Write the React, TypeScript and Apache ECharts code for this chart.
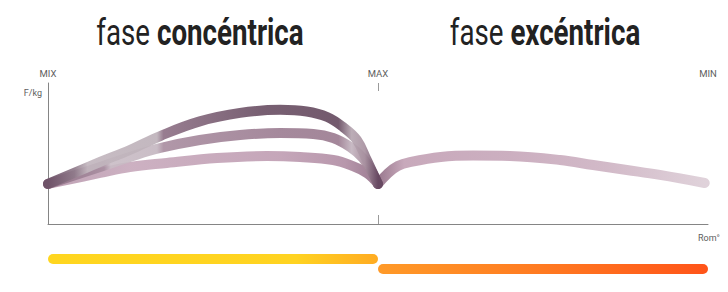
import React, { useEffect, useRef } from 'react';
import * as echarts from 'echarts';

// ---- data ----
const titleLight = 'fase ';
const titleConc = 'concéntrica';
const titleExc = 'excéntrica';
const topLabels = ['MIX', 'MAX', 'MIN'];
const topLabelPos = [0, 50, 100];
const yAxisName = 'F/kg';
const xAxisName = 'Rom°';

// concentric curves (x: 0..50 = MIX..MAX, y: F/kg, arbitrary 0..100)
const curveHigh: [number, number][] = [
  [0, 28.4], [7.9, 44.0], [12.4, 52.5], [17.0, 62.4], [23.0, 72.8], [29.1, 78.8],
  [35.2, 81.0], [39.2, 79.8], [42.3, 75.9], [44.7, 68.8], [46.8, 59.6], [48.3, 45.4],
  [49.5, 33.3], [50, 28.4],
];
const curveMid: [number, number][] = [
  [0, 28.4], [7.9, 40.4], [12.4, 47.5], [17.0, 53.9], [23.0, 59.6], [29.1, 63.1],
  [35.2, 64.5], [40.2, 63.8], [43.2, 61.0], [45.8, 54.6], [47.7, 46.8], [49.2, 36.2],
  [50, 28.4],
];
const curveLow: [number, number][] = [
  [0, 28.4], [7.9, 36.2], [12.4, 40.4], [18.0, 43.3], [25.6, 46.8], [33.2, 48.2],
  [38.2, 47.5], [43.2, 45.4], [46.2, 41.1], [48.3, 36.2], [49.5, 31.2], [50, 28.4],
];
// eccentric curve (x: 50..100 = MAX..MIN)
const curveEcc: [number, number][] = [
  [50, 28.4], [51.4, 35.5], [53.0, 41.1], [55.0, 44.0], [59.5, 47.5], [64.4, 48.5],
  [70.0, 48.2], [77.6, 45.4], [82.6, 41.8], [87.7, 38.3], [92.7, 34.8], [99.5, 29.1],
];

const phases = ['concéntrica', 'excéntrica'];
const phaseStart = [0, 50];
const phaseEnd = [50, 100];

const FONT = 'Roboto, "Noto Sans", sans-serif';

function measure(text: string, weight: number, size: number): number {
  const ctx = document.createElement('canvas').getContext('2d');
  if (!ctx) return text.length * size * 0.5;
  ctx.font = `${weight} ${size}px Roboto`;
  return ctx.measureText(text).width;
}

const hGrad = (stops: [number, string][]) =>
  new echarts.graphic.LinearGradient(0, 0, 1, 0, stops.map(([offset, color]) => ({ offset, color })));

export default function App() {
  const ref = useRef<HTMLDivElement>(null);
  useEffect(() => {
    if (!ref.current) return;
    const chart = echarts.init(ref.current, undefined, { renderer: 'svg' });

    const TS = 36;
    const w1 = measure(titleLight, 400, TS) + measure(titleConc, 700, TS);
    const w2 = measure(titleLight, 400, TS) + measure(titleExc, 700, TS);
    const scale = (206 + 192) / (w1 + w2);

    const rich = {
      a: { fontFamily: FONT, fontSize: TS, fontWeight: 400, fill: '#222', color: '#222' },
      b: { fontFamily: FONT, fontSize: TS, fontWeight: 700, fill: '#222', color: '#222' },
    };

    const labelStyle = { color: '#5e5e5e', fontSize: 9.5, fontFamily: FONT };

    const option: any = {
      animation: false,
      backgroundColor: '#ffffff',
      graphic: [
        {
          type: 'text', x: 200, y: 32, scaleX: scale, scaleY: 1.05,
          style: { text: `{a|${titleLight}}{b|${titleConc}}`, rich, align: 'center', verticalAlign: 'middle' },
        },
        {
          type: 'text', x: 545, y: 32, scaleX: scale, scaleY: 1.05,
          style: { text: `{a|${titleLight}}{b|${titleExc}}`, rich, align: 'center', verticalAlign: 'middle' },
        },
      ],
      grid: [
        { left: 48, right: 20, top: 83, bottom: 68 },
        { left: 48, right: 20, top: 254, height: 20 },
      ],
      xAxis: [
        {
          gridIndex: 0, type: 'value', min: 0, max: 100, position: 'bottom',
          axisLine: { show: true, lineStyle: { color: '#858585', width: 1 } },
          axisTick: { show: true, inside: true, length: 9, customValues: [50], lineStyle: { color: '#9a9a9a' } },
          axisLabel: { show: false }, splitLine: { show: false },
          name: xAxisName, nameLocation: 'end', nameGap: 1,
          nameTextStyle: { ...labelStyle, fontSize: 9, align: 'center', verticalAlign: 'top', padding: [9, 0, 0, 0] },
        },
        {
          gridIndex: 0, type: 'value', min: 0, max: 100, position: 'top',
          axisLine: { show: false },
          axisTick: { show: true, inside: true, length: 8, customValues: [50], lineStyle: { color: '#9a9a9a' } },
          axisLabel: {
            show: true, margin: 5, customValues: topLabelPos, ...labelStyle,
            formatter: (v: number) => topLabels[topLabelPos.indexOf(v)] ?? '',
          },
          splitLine: { show: false },
        },
        { gridIndex: 1, type: 'value', min: 0, max: 100, show: false },
      ],
      yAxis: [
        {
          gridIndex: 0, type: 'value', min: 0, max: 100,
          axisLine: { show: true, lineStyle: { color: '#858585', width: 1 } },
          axisTick: { show: false }, axisLabel: { show: false }, splitLine: { show: false },
          name: yAxisName, nameLocation: 'end', nameGap: -10,
          nameTextStyle: { ...labelStyle, fontSize: 9, align: 'right', verticalAlign: 'middle', padding: [0, 6, 0, 0] },
        },
        { gridIndex: 1, type: 'category', data: phases, inverse: true, show: false },
      ],
      series: [
        {
          type: 'line', xAxisIndex: 0, yAxisIndex: 0, data: curveLow, smooth: 0.4, symbol: 'none', z: 2,
          lineStyle: {
            width: 10, cap: 'round', join: 'round', opacity: 0.9,
            color: hGrad([[0, '#b898ad'], [0.25, '#c7a8bb'], [0.7, '#bf9db2'], [0.9, '#b08ca3'], [1, '#8f6c84']]),
          },
        },
        {
          type: 'line', xAxisIndex: 0, yAxisIndex: 0, data: curveMid, smooth: 0.4, symbol: 'none', z: 3,
          lineStyle: {
            width: 10, cap: 'round', join: 'round', opacity: 0.9,
            color: hGrad([
              [0, '#8c6c82'], [0.17, '#a88ea0'], [0.19, '#c9bcc5'], [0.33, '#c4b6c0'], [0.35, '#a88c9f'],
              [0.7, '#9b7c91'], [0.88, '#9a7a8f'], [0.92, '#c2b3be'], [0.96, '#a58899'], [1, '#7a5870'],
            ]),
          },
        },
        {
          type: 'line', xAxisIndex: 0, yAxisIndex: 0, data: curveHigh, smooth: 0.4, symbol: 'none', z: 4,
          lineStyle: {
            width: 10, cap: 'round', join: 'round', opacity: 0.92,
            color: hGrad([
              [0, '#6c5066'], [0.08, '#8f7a8a'], [0.12, '#c2b6be'], [0.33, '#beb2ba'], [0.35, '#8f7287'],
              [0.65, '#6c5266'], [0.88, '#674c61'], [0.92, '#b6a6b1'], [0.96, '#a891a0'], [1, '#654760'],
            ]),
          },
        },
        {
          type: 'line', xAxisIndex: 0, yAxisIndex: 0, data: curveEcc, smooth: 0.4, symbol: 'none', z: 2,
          lineStyle: {
            width: 10, cap: 'round', join: 'round', opacity: 0.9,
            color: hGrad([[0, '#8e6a82'], [0.08, '#c2a0b4'], [0.4, '#c6a6b9'], [0.7, '#cdb2c2'], [1, '#dccdd6']]),
          },
        },
        {
          type: 'bar', xAxisIndex: 2, yAxisIndex: 1, stack: 'phase', barWidth: 10, silent: true,
          data: phaseStart, itemStyle: { color: 'rgba(0,0,0,0)' },
        },
        {
          type: 'bar', xAxisIndex: 2, yAxisIndex: 1, stack: 'phase', barWidth: 10, silent: true,
          data: phaseEnd.map((e, i) => ({
            value: e - phaseStart[i],
            itemStyle: {
              borderRadius: 5,
              color: i === 0
                ? hGrad([[0, '#ffd61f'], [0.75, '#ffd321'], [1, '#ffab22']])
                : hGrad([[0, '#ff9a28'], [0.5, '#ff7a21'], [1, '#ff5419']]),
            },
          })),
        },
      ],
    };
    chart.setOption(option);
    return () => chart.dispose();
  }, []);
  return <div ref={ref} style={{ width: 728, height: 292, position: 'absolute', left: 0, top: 0 }} />;
}
